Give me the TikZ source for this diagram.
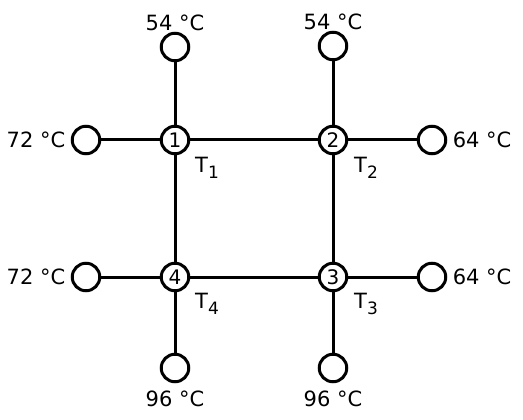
\documentclass[tikz,border=0pt]{standalone}
\usepackage{fontspec}
\setmainfont{DejaVu Sans}
\usetikzlibrary{positioning}
\tikzset{
  junction/.style={circle,draw,line width=3pt,minimum size=27.5pt,inner sep=0pt,font=\fontsize{20}{22}\selectfont},
  boundary/.style={circle,draw,line width=3pt,minimum size=27.5pt,inner sep=0pt},
  temp/.style={font=\fontsize{21}{24}\selectfont},
  link/.style={line width=3pt}
}
\newcommand{\tlab}[1]{T\raisebox{-6pt}{\fontsize{17}{17}\selectfont #1}}
\begin{document}
\begin{tikzpicture}[x=1pt,y=-1pt]
\useasboundingbox (0,0) rectangle (523,420);
% Inner nodes
\node[junction] (n1) at (175,140) {1};
\node[junction] (n2) at (333,140) {2};
\node[junction] (n3) at (333,277) {3};
\node[junction] (n4) at (175,277) {4};
% Boundary nodes
\node[boundary,label={[temp,label distance=-3pt]above:54 °C}] (top1) at (175,47) {};
\node[boundary,label={[temp,label distance=-3pt]above:54 °C}] (top2) at (333,46) {};
\node[boundary,label={[temp,label distance=2pt]left:72 °C}] (left1) at (86,140) {};
\node[boundary,label={[temp,label distance=2pt]left:72 °C}] (left4) at (86,277) {};
\node[boundary,label={[temp,label distance=2pt]right:64 °C}] (right2) at (432,140) {};
\node[boundary,label={[temp,label distance=2pt]right:64 °C}] (right3) at (432,277) {};
\node[boundary,label={[temp,label distance=4pt]below:96 °C}] (bot4) at (175,368) {};
\node[boundary,label={[temp,label distance=4pt]below:96 °C}] (bot3) at (333,368) {};
% Connections
\draw[link] (n1) -- (n2) -- (n3) -- (n4) -- (n1);
\draw[link] (top1) -- (n1) -- (left1);
\draw[link] (top2) -- (n2) -- (right2);
\draw[link] (right3) -- (n3) -- (bot3);
\draw[link] (bot4) -- (n4) -- (left4);
% Temperature names
\node[temp] (T1) at (207,168) {\tlab{1}};
\node[temp] (T2) at (366,168) {\tlab{2}};
\node[temp] (T3) at (366,304) {\tlab{3}};
\node[temp] (T4) at (207,304) {\tlab{4}};
\end{tikzpicture}
\end{document}
